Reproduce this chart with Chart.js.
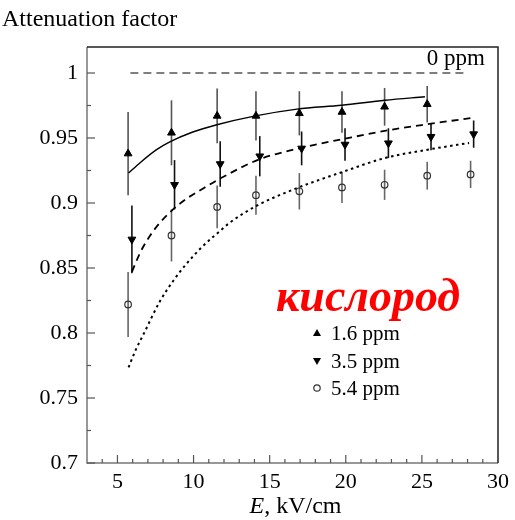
<!DOCTYPE html>
<html>
<head>
<meta charset="utf-8">
<script src="https://cdn.jsdelivr.net/npm/chart.js@4/dist/chart.umd.min.js"></script>
<style>
  body { margin: 0; background: #fff; }
</style>
</head>
<body>
<canvas id="chart" width="515" height="520"></canvas>
<script>
// measured attenuation, 1.6 ppm oxygen
const energy16 = [5.7, 8.55, 11.55, 14.1, 16.95, 19.75, 22.55, 25.35];
const att16 = [0.938, 0.954, 0.967, 0.967, 0.969, 0.970, 0.974, 0.976];
const err16 = [0.032, 0.025, 0.021, 0.019, 0.017, 0.016, 0.0145, 0.014];

// 3.5 ppm
const energy35 = [5.95, 8.75, 11.75, 14.35, 17.1, 19.95, 22.8, 25.6, 28.4];
const att35 = [0.872, 0.914, 0.930, 0.936, 0.942, 0.945, 0.946, 0.951, 0.953];
const err35 = [0.026, 0.019, 0.0175, 0.0155, 0.013, 0.0125, 0.0115, 0.0105, 0.0105];

// 5.4 ppm
const energy54 = [5.7, 8.55, 11.55, 14.1, 16.95, 19.75, 22.55, 25.35, 28.2];
const att54 = [0.822, 0.875, 0.897, 0.906, 0.909, 0.912, 0.914, 0.921, 0.922];
const err54 = [0.025, 0.020, 0.0165, 0.015, 0.014, 0.012, 0.0116, 0.0107, 0.0105];

// fitted curves
const fit16E = [5.73, 6.49, 7.57, 8.44, 9.95, 11.47, 14.07, 16.8, 19.74, 22.57, 25.2];
const fit16 = [0.923, 0.931, 0.941, 0.947, 0.9546, 0.960, 0.967, 0.9722, 0.9752, 0.979, 0.9817];
const fit35E = [5.95, 6.5, 7.15, 7.8, 8.55, 9.5, 10.6, 11.7, 14.3, 17.1, 19.95, 22.8, 25.6, 28.25];
const fit35 = [0.847, 0.862, 0.875, 0.885, 0.894, 0.903, 0.911, 0.9185, 0.9335, 0.9425, 0.9495, 0.956, 0.961, 0.9654];
const fit54E = [5.73, 6.2, 6.71, 7.79, 8.66, 9.52, 10.6, 11.69, 12.34, 14.07, 16.8, 19.74, 22.57, 25.37, 28.1];
const fit54 = [0.7736, 0.787, 0.799, 0.8244, 0.840, 0.853, 0.8667, 0.878, 0.8845, 0.8974, 0.9115, 0.9237, 0.9346, 0.941, 0.9462];

// no-oxygen reference level
const zeroE = [5.85, 27.8];
const zeroAtt = [1.0, 1.0];

const xTicks = [5, 10, 15, 20, 25, 30];
const yTicks = [0.7, 0.75, 0.8, 0.85, 0.9, 0.95, 1];
const seriesLabels = ['1.6 ppm', '3.5 ppm', '5.4 ppm'];

const SERIF = '"Liberation Serif", "DejaVu Serif", serif';

function pts(xs, ys) {
    return xs.map((x, i) => ({ x: x, y: ys[i] }));
}

function curve(xs, ys, dash, width) {
    return {
        data: pts(xs, ys),
        showLine: true,
        borderColor: '#000',
        borderWidth: width,
        borderDash: dash,
        pointRadius: 0,
        fill: false,
        cubicInterpolationMode: 'monotone',
        order: 2
    };
}

function markers(xs, ys, errs, style) {
    return Object.assign({
        data: pts(xs, ys),
        showLine: false,
        errors: errs,
        order: 1
    }, style);
}

const datasets = [
    curve(zeroE, zeroAtt, [8, 5], 1.2),
    curve(fit16E, fit16, [], 1.4),
    curve(fit35E, fit35, [7, 5], 1.8),
    curve(fit54E, fit54, [2.5, 3.5], 2),
    markers(energy16, att16, err16, {
        pointStyle: 'triangle', pointRadius: 4.5, pointRotation: 0,
        backgroundColor: '#000', borderColor: '#000', borderWidth: 1, barColor: '#555'
    }),
    markers(energy35, att35, err35, {
        pointStyle: 'triangle', pointRadius: 4.5, pointRotation: 180,
        backgroundColor: '#000', borderColor: '#000', borderWidth: 1, barColor: '#111'
    }),
    markers(energy54, att54, err54, {
        pointStyle: 'circle', pointRadius: 3.3,
        backgroundColor: 'rgba(0,0,0,0)', borderColor: '#333', borderWidth: 1.2, barColor: '#666'
    })
];

// vertical error bars under the markers
const errorBars = {
    id: 'errorBars',
    beforeDatasetsDraw(chart) {
        const ctx = chart.ctx;
        const xs = chart.scales.x, ys = chart.scales.y;
        ctx.save();
        chart.data.datasets.forEach(ds => {
            if (!ds.errors) return;
            ctx.strokeStyle = ds.barColor;
            ctx.lineWidth = 1.6;
            ds.data.forEach((p, i) => {
                const px = xs.getPixelForValue(p.x);
                ctx.beginPath();
                ctx.moveTo(px, ys.getPixelForValue(p.y + ds.errors[i]));
                ctx.lineTo(px, ys.getPixelForValue(p.y - ds.errors[i]));
                ctx.stroke();
            });
        });
        ctx.restore();
    }
};

// frame, inward ticks, titles and legend
const decor = {
    id: 'decor',
    afterDraw(chart) {
        const ctx = chart.ctx;
        const a = chart.chartArea;
        const xs = chart.scales.x, ys = chart.scales.y;
        ctx.save();

        ctx.lineWidth = 1.5;
        ctx.strokeStyle = '#777';
        ctx.beginPath();
        ctx.moveTo(a.left, a.top);
        ctx.lineTo(a.left, a.bottom);
        ctx.lineTo(a.right, a.bottom);
        ctx.stroke();
        ctx.strokeStyle = '#222';
        ctx.beginPath();
        ctx.moveTo(a.left, a.top);
        ctx.lineTo(a.right, a.top);
        ctx.lineTo(a.right, a.bottom);
        ctx.stroke();

        ctx.strokeStyle = '#555';
        ctx.lineWidth = 1.2;
        for (let v = 4; v <= 29; v++) {
            const px = xs.getPixelForValue(v);
            const len = xTicks.includes(v) ? 8 : 4;
            ctx.beginPath();
            ctx.moveTo(px, a.bottom);
            ctx.lineTo(px, a.bottom - len);
            ctx.stroke();
        }
        for (let k = 0; k <= 12; k++) {
            const v = 0.7 + k * 0.025;
            const py = ys.getPixelForValue(v);
            const len = k % 2 === 0 ? 8 : 4;
            ctx.beginPath();
            ctx.moveTo(a.left, py);
            ctx.lineTo(a.left + len, py);
            ctx.stroke();
        }

        ctx.fillStyle = '#000';
        ctx.textBaseline = 'alphabetic';
        ctx.textAlign = 'left';
        ctx.font = '24px ' + SERIF;
        ctx.fillText('Attenuation factor', 2, 26);

        ctx.textAlign = 'right';
        ctx.font = '23px ' + SERIF;
        ctx.fillText('0 ppm', 485, 65);

        // axis title with italic E
        ctx.textAlign = 'left';
        const italic = 'italic 24px ' + SERIF;
        const upright = '24px ' + SERIF;
        ctx.font = italic;
        const wE = ctx.measureText('E').width;
        ctx.font = upright;
        const wRest = ctx.measureText(', kV/cm').width;
        const cx = (a.left + a.right) / 2 + 3;
        let tx = cx - (wE + wRest) / 2;
        ctx.font = italic;
        ctx.fillText('E', tx, 513);
        ctx.font = upright;
        ctx.fillText(', kV/cm', tx + wE, 513);

        ctx.fillStyle = '#ff0000';
        ctx.font = 'italic bold 46px ' + SERIF;
        ctx.fillText('кислород', 276, 311);

        // legend
        const rows = [333, 361, 388];
        ctx.fillStyle = '#000';
        ctx.font = '21px ' + SERIF;
        rows.forEach((ry, i) => {
            const mx = 317;
            ctx.fillText(seriesLabels[i], 331, ry + 7);
            ctx.beginPath();
            if (i === 0) {
                ctx.moveTo(mx, ry - 4);
                ctx.lineTo(mx + 4, ry + 3);
                ctx.lineTo(mx - 4, ry + 3);
                ctx.closePath();
                ctx.fill();
            } else if (i === 1) {
                ctx.moveTo(mx, ry + 4);
                ctx.lineTo(mx + 4, ry - 3);
                ctx.lineTo(mx - 4, ry - 3);
                ctx.closePath();
                ctx.fill();
            } else {
                ctx.strokeStyle = '#333';
                ctx.lineWidth = 1.2;
                ctx.arc(mx, ry, 3.2, 0, Math.PI * 2);
                ctx.stroke();
            }
        });

        ctx.restore();
    }
};

new Chart(document.getElementById('chart'), {
    type: 'scatter',
    data: { datasets: datasets },
    options: {
        responsive: false,
        animation: false,
        layout: { padding: { left: 0, right: 13, top: 47, bottom: 0 } },
        plugins: {
            legend: { display: false },
            tooltip: { enabled: false }
        },
        scales: {
            x: {
                type: 'linear',
                min: 3,
                max: 30,
                afterBuildTicks: s => { s.ticks = xTicks.map(v => ({ value: v })); },
                afterFit: s => { s.height = 57; },
                grid: { display: false, drawTicks: false },
                border: { display: false },
                ticks: { color: '#000', padding: 6, font: { family: SERIF, size: 22 } }
            },
            y: {
                type: 'linear',
                min: 0.7,
                max: 1.02,
                afterBuildTicks: s => { s.ticks = yTicks.map(v => ({ value: v })); },
                afterFit: s => { s.width = 87; },
                grid: { display: false, drawTicks: false },
                border: { display: false },
                ticks: {
                    color: '#000', padding: 9, font: { family: SERIF, size: 22 },
                    callback: v => String(Math.round(v * 100) / 100)
                }
            }
        }
    },
    plugins: [errorBars, decor]
});
</script>
</body>
</html>
